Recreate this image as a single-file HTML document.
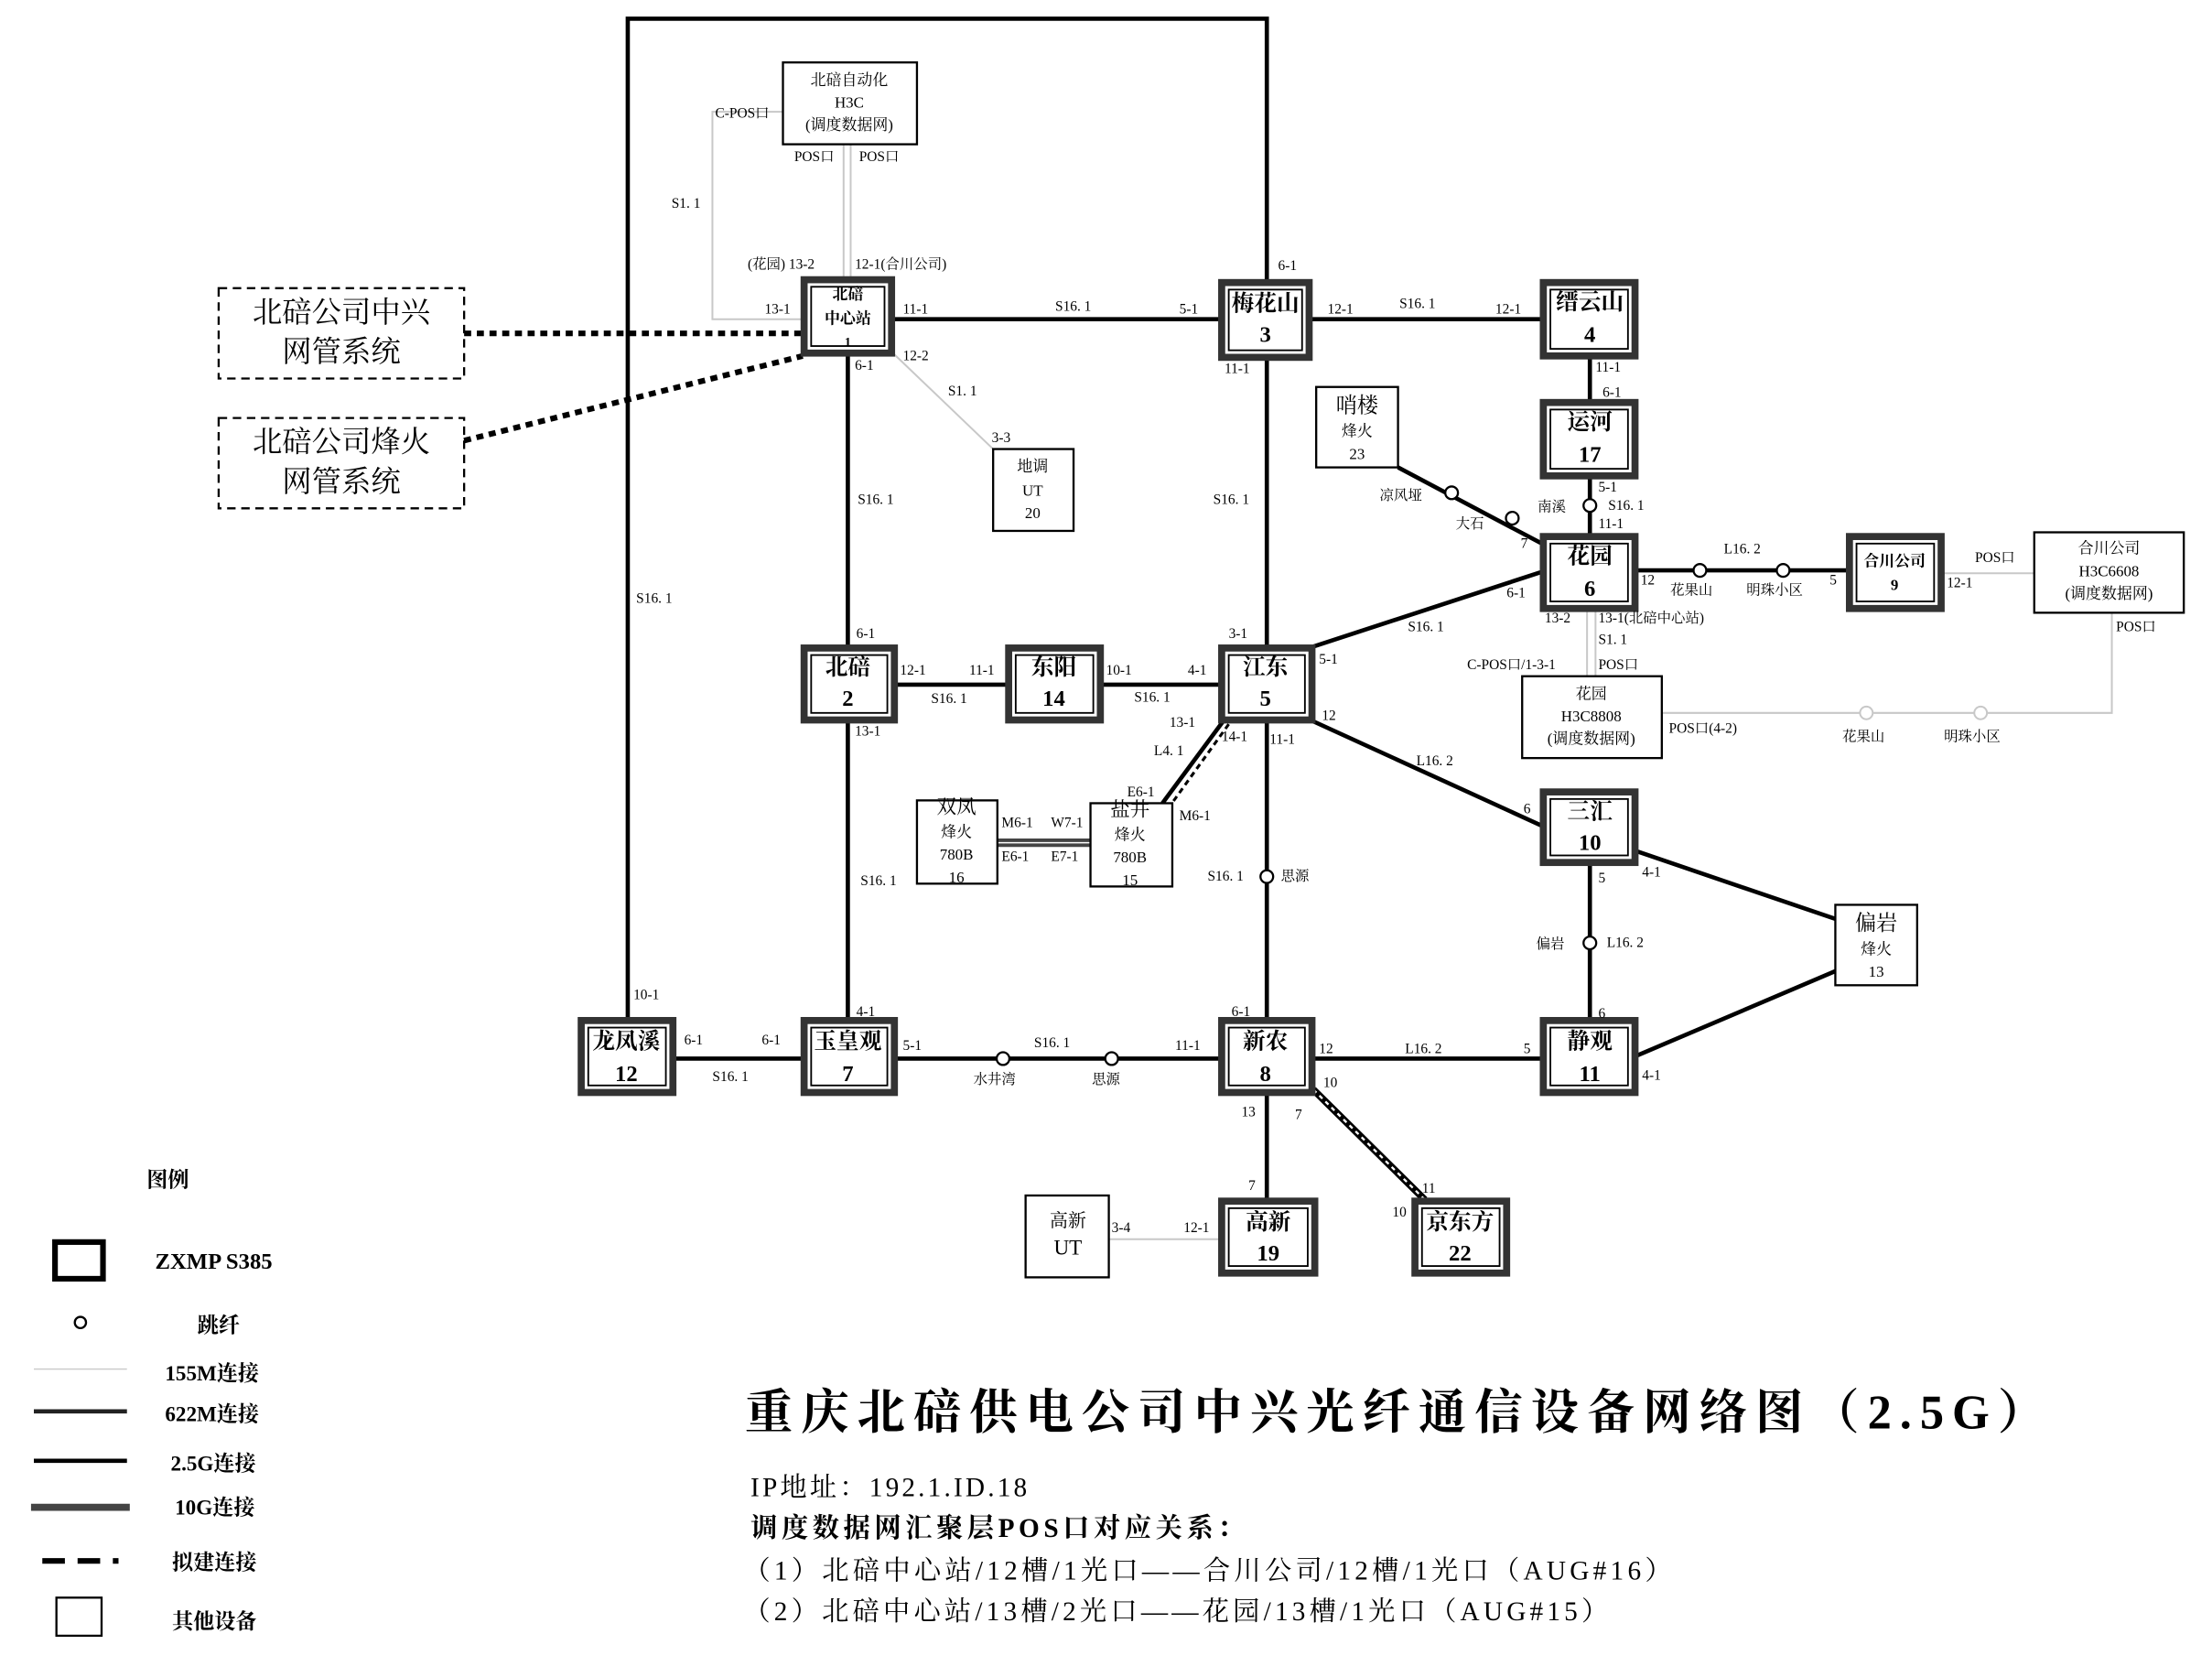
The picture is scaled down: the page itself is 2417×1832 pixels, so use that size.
<!DOCTYPE html>
<html><head><meta charset="utf-8"><style>
html,body{margin:0;padding:0;background:#fff;}
svg{display:block;}
text{font-family:"Liberation Serif","Noto Serif CJK SC",serif;fill:#000;}
.s{font-family:"Liberation Sans","Noto Sans CJK SC",sans-serif;font-size:10px;}
.g{fill:#c4c4c4;}
.nb{font-size:16px;font-weight:bold;text-anchor:middle;}
.sm{font-size:11px;text-anchor:middle;}
</style></head><body>
<svg width="2417" height="1832" viewBox="0 0 1568 1188" xmlns="http://www.w3.org/2000/svg">
<rect width="1568" height="1188" fill="#fff"/>
<g stroke="#c8c8c8" stroke-width="1.3" fill="none">
<polyline points="555,79 505,79 505,226 569,226"/>
<line x1="598" y1="102" x2="598" y2="197"/>
<line x1="603" y1="102" x2="603" y2="197"/>
<line x1="633" y1="250" x2="704" y2="318"/>
<line x1="1125" y1="432" x2="1125" y2="479"/>
<line x1="1131" y1="432" x2="1131" y2="479"/>
<line x1="1377" y1="406" x2="1442" y2="406"/>
<polyline points="1178,505 1497,505 1497,434"/>
<line x1="786" y1="878" x2="865" y2="878"/>
</g>
<g fill="#fff" stroke="#c8c8c8" stroke-width="1.3"><circle cx="1323" cy="505" r="4.5"/><circle cx="1404" cy="505" r="4.5"/></g>
<g stroke="#000" stroke-width="3" fill="none">
<polyline points="445,722 445,13 898,13 898,199"/>
<line x1="633" y1="226" x2="865" y2="226"/>
<line x1="929" y1="226" x2="1093" y2="226"/>
<line x1="1127" y1="253" x2="1127" y2="284"/>
<line x1="1127" y1="338" x2="1127" y2="379"/>
<line x1="601" y1="251" x2="601" y2="458"/>
<line x1="898" y1="254" x2="898" y2="458"/>
<line x1="635" y1="485" x2="714" y2="485"/>
<line x1="781" y1="485" x2="865" y2="485"/>
<line x1="931" y1="458" x2="1093" y2="405"/>
<line x1="1160" y1="404" x2="1310" y2="404"/>
<line x1="991" y1="331" x2="1093" y2="385"/>
<line x1="601" y1="511" x2="601" y2="722"/>
<line x1="898" y1="511" x2="898" y2="722"/>
<line x1="931" y1="511" x2="1093" y2="585"/>
<line x1="1127" y1="612" x2="1127" y2="722"/>
<line x1="1160" y1="603" x2="1301" y2="651"/>
<line x1="1160" y1="748" x2="1301" y2="688"/>
<line x1="478" y1="750" x2="569" y2="750"/>
<line x1="635" y1="750" x2="865" y2="750"/>
<line x1="931" y1="750" x2="1093" y2="750"/>
<line x1="898" y1="775" x2="898" y2="850"/>
<line x1="867" y1="511" x2="824" y2="569"/>
</g>
<line x1="931" y1="772" x2="1010" y2="850" stroke="#000" stroke-width="5"/>
<line x1="931" y1="772" x2="1010" y2="850" stroke="#fff" stroke-width="1.5" stroke-dasharray="3,3"/>
<line x1="871" y1="513" x2="830" y2="570" stroke="#000" stroke-width="2" stroke-dasharray="4,3"/>
<line x1="707" y1="597" x2="773" y2="597" stroke="#444" stroke-width="6"/>
<line x1="707" y1="597" x2="773" y2="597" stroke="#fff" stroke-width="1"/>
<g stroke="#000" stroke-width="4" stroke-dasharray="5,4" fill="none">
<line x1="329" y1="236" x2="569" y2="236"/>
<line x1="329" y1="312" x2="569" y2="252"/>
</g>
<g fill="#fff" stroke="#000" stroke-width="1.5">
<circle cx="1029" cy="349" r="4.5"/><circle cx="1072" cy="367" r="4.5"/>
<circle cx="1127" cy="358" r="4.5"/>
<circle cx="1205" cy="404" r="4.5"/><circle cx="1264" cy="404" r="4.5"/>
<circle cx="898" cy="621" r="4.5"/><circle cx="1127" cy="668" r="4.5"/>
<circle cx="711" cy="750" r="4.5"/><circle cx="788" cy="750" r="4.5"/>
</g>
<g fill="#fff" stroke="#333" stroke-width="5">
<rect x="570" y="198" width="62" height="52"/>
<rect x="866" y="200" width="62" height="53"/>
<rect x="1094" y="200" width="65" height="52"/>
<rect x="1094" y="285" width="65" height="52"/>
<rect x="1094" y="380" width="65" height="51"/>
<rect x="1311" y="380" width="65" height="51"/>
<rect x="570" y="459" width="64" height="51"/>
<rect x="715" y="459" width="65" height="51"/>
<rect x="866" y="459" width="64" height="51"/>
<rect x="1094" y="561" width="65" height="50"/>
<rect x="412" y="723" width="65" height="51"/>
<rect x="570" y="723" width="64" height="51"/>
<rect x="866" y="723" width="64" height="51"/>
<rect x="1094" y="723" width="65" height="51"/>
<rect x="866" y="851" width="66" height="51"/>
<rect x="1003" y="851" width="65" height="51"/>
</g>
<g fill="none" stroke="#000" stroke-width="1.2">
<rect x="575" y="203" width="52" height="42"/>
<rect x="871" y="205" width="52" height="43"/>
<rect x="1099" y="205" width="55" height="42"/>
<rect x="1099" y="290" width="55" height="42"/>
<rect x="1099" y="385" width="55" height="41"/>
<rect x="1316" y="385" width="55" height="41"/>
<rect x="575" y="464" width="54" height="41"/>
<rect x="720" y="464" width="55" height="41"/>
<rect x="871" y="464" width="54" height="41"/>
<rect x="1099" y="566" width="55" height="40"/>
<rect x="417" y="728" width="55" height="41"/>
<rect x="575" y="728" width="54" height="41"/>
<rect x="871" y="728" width="54" height="41"/>
<rect x="1099" y="728" width="55" height="41"/>
<rect x="871" y="856" width="56" height="41"/>
<rect x="1008" y="856" width="55" height="41"/>
</g>
<g fill="#fff" stroke="#000" stroke-width="1.5">
<rect x="555" y="44" width="95" height="58"/>
<rect x="704" y="318" width="57" height="58"/>
<rect x="933" y="274" width="58" height="57"/>
<rect x="1442" y="377" width="106" height="57"/>
<rect x="1079" y="479" width="99" height="58"/>
<rect x="650" y="567" width="57" height="59"/>
<rect x="773" y="569" width="58" height="59"/>
<rect x="1301" y="641" width="58" height="57"/>
<rect x="727" y="847" width="59" height="58"/>
</g>
<g fill="none" stroke="#000" stroke-width="1.5" stroke-dasharray="6,4">
<rect x="155" y="204" width="174" height="64"/>
<rect x="155" y="296" width="174" height="64"/>
</g>
<text class="nb" x="601" y="212" style="font-size:11px">北碚</text>
<text class="nb" x="601" y="229" style="font-size:11px">中心站</text>
<text class="nb" x="601" y="245" style="font-size:9px">1</text>
<text class="nb" x="897" y="220">梅花山</text><text class="nb" x="897" y="242">3</text>
<text class="nb" x="1127" y="219">缙云山</text><text class="nb" x="1127" y="242">4</text>
<text class="nb" x="1127" y="304">运河</text><text class="nb" x="1127" y="327">17</text>
<text class="nb" x="1127" y="399">花园</text><text class="nb" x="1127" y="422">6</text>
<text class="nb" x="1343" y="401" style="font-size:11px">合川公司</text><text class="nb" x="1343" y="418" style="font-size:11px">9</text>
<text class="nb" x="601" y="478">北碚</text><text class="nb" x="601" y="500">2</text>
<text class="nb" x="747" y="478">东阳</text><text class="nb" x="747" y="500">14</text>
<text class="nb" x="897" y="478">江东</text><text class="nb" x="897" y="500">5</text>
<text class="nb" x="1127" y="580">三汇</text><text class="nb" x="1127" y="602">10</text>
<text class="nb" x="444" y="743">龙凤溪</text><text class="nb" x="444" y="766">12</text>
<text class="nb" x="601" y="743">玉皇观</text><text class="nb" x="601" y="766">7</text>
<text class="nb" x="897" y="743">新农</text><text class="nb" x="897" y="766">8</text>
<text class="nb" x="1127" y="743">静观</text><text class="nb" x="1127" y="766">11</text>
<text class="nb" x="899" y="871">高新</text><text class="nb" x="899" y="893">19</text>
<text class="nb" x="1035" y="871">京东方</text><text class="nb" x="1035" y="893">22</text>
<text class="sm" x="602" y="60">北碚自动化</text><text class="sm" x="602" y="76">H3C</text><text class="sm" x="602" y="92">(调度数据网)</text>
<text class="sm" x="732" y="334">地调</text><text class="sm" x="732" y="351">UT</text><text class="sm" x="732" y="367">20</text>
<text class="sm" x="962" y="292" style="font-size:15px">哨楼</text><text class="sm" x="962" y="309">烽火</text><text class="sm" x="962" y="325">23</text>
<text class="sm" x="1495" y="392">合川公司</text><text class="sm" x="1495" y="408">H3C6608</text><text class="sm" x="1495" y="424">(调度数据网)</text>
<text class="sm" x="1128" y="495">花园</text><text class="sm" x="1128" y="511">H3C8808</text><text class="sm" x="1128" y="527">(调度数据网)</text>
<text class="sm" x="678" y="576" style="font-size:14px">双凤</text><text class="sm" x="678" y="593">烽火</text><text class="sm" x="678" y="609">780B</text><text class="sm" x="678" y="625">16</text>
<text class="sm" x="801" y="578" style="font-size:14px">盐井</text><text class="sm" x="801" y="595">烽火</text><text class="sm" x="801" y="611">780B</text><text class="sm" x="801" y="627">15</text>
<text class="sm" x="1330" y="659" style="font-size:15px">偏岩</text><text class="sm" x="1330" y="676">烽火</text><text class="sm" x="1330" y="692">13</text>
<text class="sm" x="757" y="869" style="font-size:13px">高新</text><text class="sm" x="757" y="889" style="font-size:15px">UT</text>
<text x="242" y="228" style="font-size:21px;text-anchor:middle">北碚公司中兴</text>
<text x="242" y="256" style="font-size:21px;text-anchor:middle">网管系统</text>
<text x="242" y="320" style="font-size:21px;text-anchor:middle">北碚公司烽火</text>
<text x="242" y="348" style="font-size:21px;text-anchor:middle">网管系统</text>
<g class="s">
<text x="640" y="222">11-1</text><text x="748" y="220">S16. 1</text><text x="836" y="222">5-1</text>
<text x="906" y="191">6-1</text><text x="941" y="222">12-1</text><text x="992" y="218">S16. 1</text><text x="1060" y="222">12-1</text>
<text x="868" y="264">11-1</text><text x="606" y="262">6-1</text>
<text x="1131" y="263">11-1</text><text x="1136" y="281">6-1</text>
<text x="1133" y="348">5-1</text><text x="1140" y="361">S16. 1</text><text x="1133" y="374">11-1</text><text x="1090" y="362">南溪</text>
<text x="978" y="354">凉风垭</text><text x="1032" y="374">大石</text><text x="1078" y="388">7</text>
<text x="1163" y="414">12</text><text x="1222" y="392">L16. 2</text><text x="1184" y="421">花果山</text><text x="1238" y="421">明珠小区</text><text x="1297" y="414">5</text>
<text x="1068" y="423">6-1</text><text x="998" y="447">S16. 1</text>
<text x="608" y="357">S16. 1</text><text x="860" y="357">S16. 1</text><text x="451" y="427">S16. 1</text>
<text x="607" y="452">6-1</text><text x="871" y="452">3-1</text>
<text x="638" y="478">12-1</text><text x="687" y="478">11-1</text><text x="660" y="498">S16. 1</text>
<text x="784" y="478">10-1</text><text x="842" y="478">4-1</text><text x="804" y="497">S16. 1</text>
<text x="935" y="470">5-1</text><text x="937" y="510">12</text><text x="1004" y="542">L16. 2</text><text x="1080" y="576">6</text>
<text x="606" y="521">13-1</text><text x="900" y="527">11-1</text>
<text x="829" y="515">13-1</text><text x="866" y="525">14-1</text><text x="818" y="535">L4. 1</text><text x="799" y="564">E6-1</text><text x="836" y="581">M6-1</text>
<text x="710" y="586">M6-1</text><text x="745" y="586">W7-1</text><text x="710" y="610">E6-1</text><text x="745" y="610">E7-1</text>
<text x="610" y="627">S16. 1</text><text x="856" y="624">S16. 1</text><text x="908" y="624">思源</text>
<text x="1133" y="625">5</text><text x="1164" y="621">4-1</text><text x="1089" y="672">偏岩</text><text x="1139" y="671">L16. 2</text>
<text x="1133" y="721">6</text><text x="1164" y="765">4-1</text>
<text x="449" y="708">10-1</text><text x="607" y="720">4-1</text><text x="873" y="720">6-1</text>
<text x="485" y="740">6-1</text><text x="540" y="740">6-1</text><text x="505" y="766">S16. 1</text>
<text x="640" y="744">5-1</text><text x="733" y="742">S16. 1</text><text x="833" y="744">11-1</text>
<text x="690" y="768">水井湾</text><text x="774" y="768">思源</text>
<text x="935" y="746">12</text><text x="996" y="746">L16. 2</text><text x="1080" y="746">5</text>
<text x="938" y="770">10</text><text x="880" y="791">13</text><text x="918" y="793">7</text>
<text x="885" y="843">7</text><text x="1008" y="845">11</text><text x="987" y="862">10</text>
</g>
<g class="s g">
<text x="507" y="83">C-POS口</text><text x="563" y="114">POS口</text><text x="609" y="114">POS口</text>
<text x="476" y="147">S1. 1</text><text x="530" y="190">(花园) 13-2</text><text x="606" y="190">12-1(合川公司)</text>
<text x="542" y="222">13-1</text><text x="640" y="255">12-2</text><text x="672" y="280">S1. 1</text><text x="703" y="313">3-3</text>
<text x="1095" y="441">13-2</text><text x="1133" y="441">13-1(北碚中心站)</text><text x="1133" y="456">S1. 1</text>
<text x="1040" y="474">C-POS口/1-3-1</text><text x="1133" y="474">POS口</text>
<text x="1400" y="398">POS口</text><text x="1380" y="416">12-1</text><text x="1500" y="447">POS口</text>
<text x="1183" y="519">POS口(4-2)</text><text x="1306" y="525">花果山</text><text x="1378" y="525">明珠小区</text>
<text x="788" y="873">3-4</text><text x="839" y="873">12-1</text>
</g>
<text x="104" y="841" style="font-size:15px;font-weight:bold">图例</text>
<rect x="39" y="880" width="34" height="26" fill="none" stroke="#000" stroke-width="4"/>
<text x="110" y="899" style="font-size:16px;font-weight:bold">ZXMP S385</text>
<circle cx="57" cy="937" r="4" fill="#fff" stroke="#000" stroke-width="1.5"/>
<text x="140" y="944" style="font-size:15px;font-weight:bold">跳纤</text>
<line x1="24" y1="970" x2="90" y2="970" stroke="#ccc" stroke-width="1"/>
<text x="117" y="978" style="font-size:15px;font-weight:bold">155M连接</text>
<line x1="24" y1="1000" x2="90" y2="1000" stroke="#222" stroke-width="3"/>
<text x="117" y="1007" style="font-size:15px;font-weight:bold">622M连接</text>
<line x1="24" y1="1035" x2="90" y2="1035" stroke="#000" stroke-width="3"/>
<text x="121" y="1042" style="font-size:15px;font-weight:bold">2.5G连接</text>
<line x1="22" y1="1068" x2="92" y2="1068" stroke="#444" stroke-width="5"/>
<text x="124" y="1073" style="font-size:15px;font-weight:bold">10G连接</text>
<line x1="30" y1="1106" x2="84" y2="1106" stroke="#000" stroke-width="4" stroke-dasharray="16,9"/>
<text x="122" y="1112" style="font-size:15px;font-weight:bold">拟建连接</text>
<rect x="40" y="1132" width="32" height="27" fill="none" stroke="#000" stroke-width="1.5"/>
<text x="122" y="1154" style="font-size:15px;font-weight:bold">其他设备</text>
<text x="528" y="1012" textLength="922" lengthAdjust="spacing" style="font-size:34px;font-weight:bold">重庆北碚供电公司中兴光纤通信设备网络图（2.5G）</text>
<text x="532" y="1060" textLength="196" lengthAdjust="spacing" style="font-size:19px">IP地址：192.1.ID.18</text>
<text x="532" y="1089" textLength="350" lengthAdjust="spacing" style="font-size:19px;font-weight:bold">调度数据网汇聚层POS口对应关系：</text>
<text x="527" y="1119" textLength="658" lengthAdjust="spacing" style="font-size:19px">（1）北碚中心站/12槽/1光口——合川公司/12槽/1光口（AUG#16）</text>
<text x="527" y="1148" textLength="613" lengthAdjust="spacing" style="font-size:19px">（2）北碚中心站/13槽/2光口——花园/13槽/1光口（AUG#15）</text>
</svg>
</body></html>
